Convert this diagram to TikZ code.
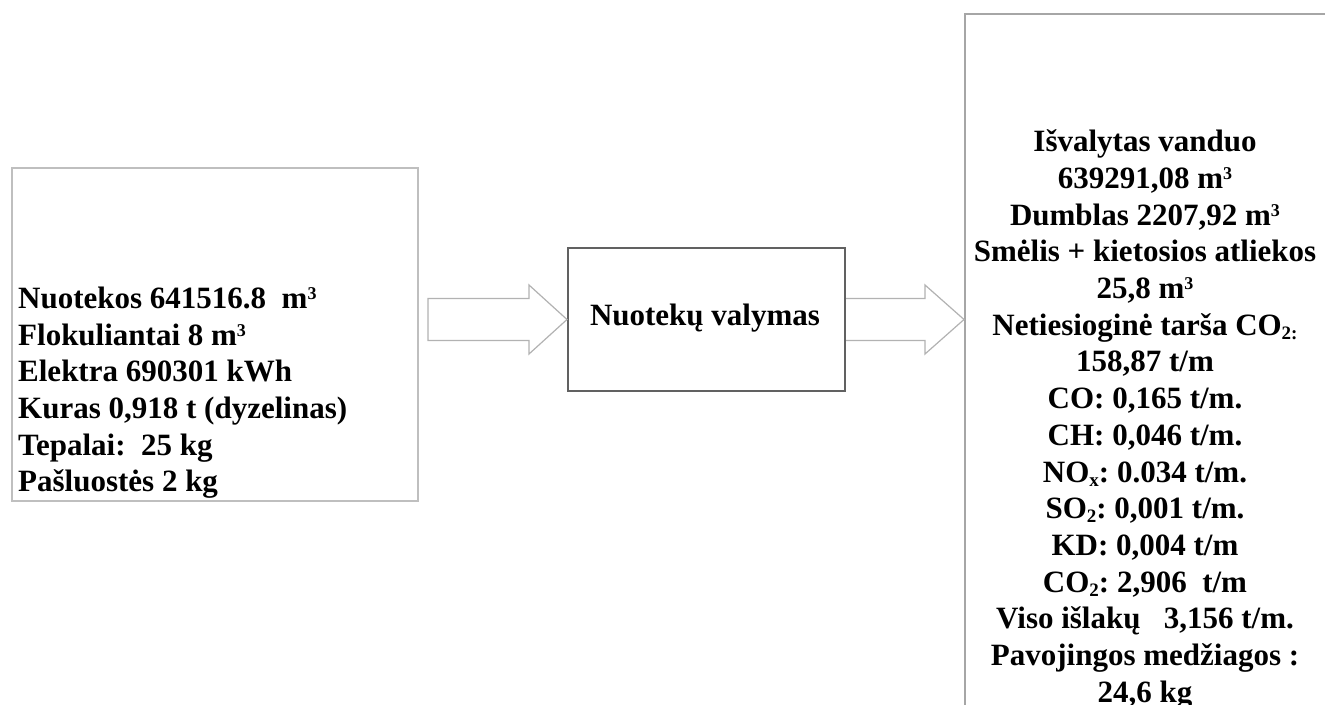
\documentclass[tikz,border=0pt]{standalone}
\usepackage{fontspec}
\setmainfont{Liberation Serif}
\usetikzlibrary{calc}
\newcommand\mysup[1]{\raisebox{9pt}{\fontsize{18}{18}\selectfont\bfseries #1}}
\newcommand\mysub[1]{\raisebox{-4pt}{\fontsize{19}{19}\selectfont\bfseries #1}}
\begin{document}
\frenchspacing
\begin{tikzpicture}[x=1pt,y=-1pt,
  txt/.style={inner sep=0pt, font=\fontsize{31}{36.7}\selectfont\bfseries},
  inbox/.style={draw=black!25, line width=2pt, minimum width=406pt, minimum height=333pt, anchor=north west, inner sep=0pt},
  procbox/.style={draw=black!62, line width=2pt, minimum width=277pt, minimum height=143pt, anchor=north west, inner sep=0pt},
  outbox/.style={draw=black!35, line width=2pt, minimum width=420pt, minimum height=720pt, anchor=north west, inner sep=0pt},
  blockarrow/.style={draw=black!30, line width=1.2pt, fill=white, line join=miter}
]
\useasboundingbox (0,0) rectangle (1325,704);
\clip (0,0) rectangle (1325,704);

% boxes
\node[inbox] (in) at (11,167) {};
\node[procbox] (mid) at (567,247) {};
\node[outbox] (out) at (964,13) {};

% input text
\foreach \t [count=\i] in {
  {Nuotekos 641516.8~ m\mysup{3}},
  {Flokuliantai 8 m\mysup{3}},
  {Elektra 690301 kWh},
  {Kuras 0,918 t (dyzelinas)},
  {Tepalai:~ 25 kg},
  {Pašluostės 2 kg}}
  \node[txt, anchor=base west] (in-\i) at (18,{308.3+36.7*(\i-1)}) {\frenchspacing\t};

% process text
\node[txt, anchor=base] (mid-t) at (705,325) {Nuotekų valymas};

% output text
\foreach \t [count=\i] in {
  {Išvalytas vanduo},
  {639291,08 m\mysup{3}},
  {Dumblas 2207,92 m\mysup{3}},
  {Smėlis + kietosios atliekos},
  {25,8 m\mysup{3}},
  {Netiesioginė tarša CO\mysub{2:}},
  {158,87 t/m},
  {CO: 0,165 t/m.},
  {CH: 0,046 t/m.},
  {NO\mysub{x}: 0.034 t/m.},
  {SO\mysub{2}: 0,001 t/m.},
  {KD: 0,004 t/m},
  {CO\mysub{2}: 2,906~ t/m},
  {Viso išlakų~~ 3,156 t/m.},
  {Pavojingos medžiagos :},
  {24,6 kg}}
  \node[txt, anchor=base] (out-\i) at (1145,{151.7+36.7*(\i-1)}) {\frenchspacing\t};

% block arrows
\coordinate (a1s) at ($(in.east |- mid.west)+(9,0)$);
\draw[blockarrow] let \p1=(a1s), \p2=(mid.west) in
  (\x1,\y1+21) -- (\x2-38,\y1+21) -- (\x2-38,\y1+34.5) -- (\x2,\y1)
  -- (\x2-38,\y1-34.5) -- (\x2-38,\y1-21) -- (\x1,\y1-21) -- cycle;
\coordinate (a2e) at (out.west |- mid.east);
\draw[blockarrow] let \p1=(mid.east), \p2=(a2e) in
  (\x1,\y1+21) -- (\x2-39,\y1+21) -- (\x2-39,\y1+34.5) -- (\x2,\y1)
  -- (\x2-39,\y1-34.5) -- (\x2-39,\y1-21) -- (\x1,\y1-21);
\end{tikzpicture}
\end{document}
